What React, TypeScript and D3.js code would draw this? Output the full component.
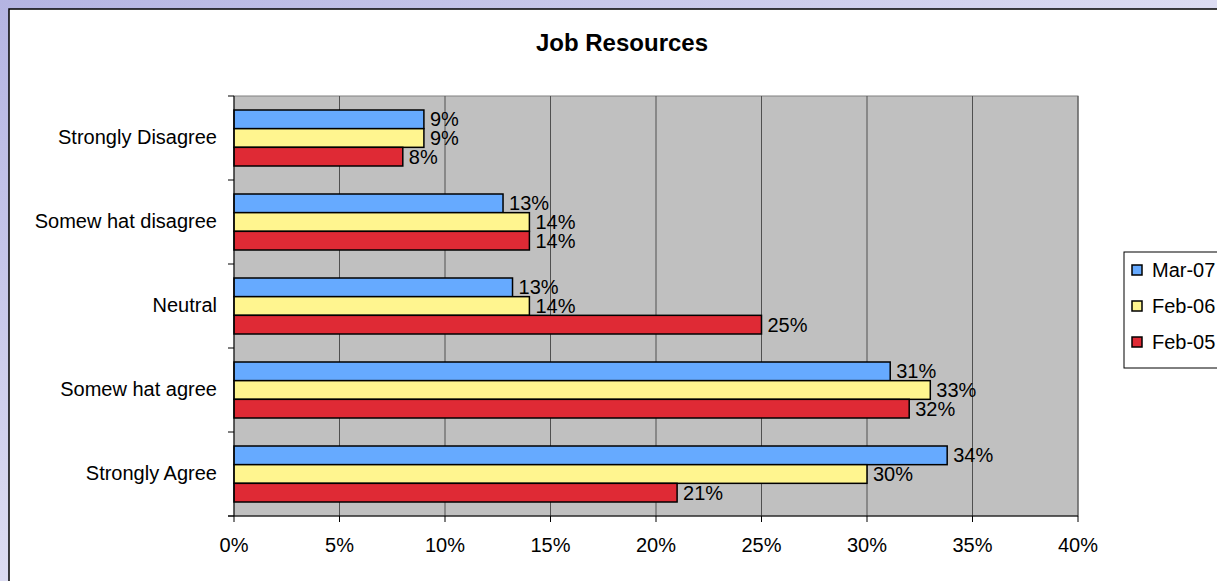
import React from "react";
import * as d3 from "d3";

const categories = ["Strongly Disagree", "Somew hat disagree", "Neutral", "Somew hat agree", "Strongly Agree"];
const seriesNames = ["Mar-07", "Feb-06", "Feb-05"];
const mar07 = [9.0, 12.75, 13.2, 31.1, 33.8];
const feb06 = [9.0, 14.0, 14.0, 33.0, 30.0];
const feb05 = [8.0, 14.0, 25.0, 32.0, 21.0];
const seriesColors = ["#66AAFF", "#FFF58F", "#DF2A35"];
const xTicks = [0, 5, 10, 15, 20, 25, 30, 35, 40];

export default function App() {
  const W = 1217, H = 581;
  const left = 234, right = 1078, top = 96, bottom = 516;
  const series = [mar07, feb06, feb05];
  const x = d3.scaleLinear().domain([0, 40]).range([left, right]);
  const y = d3.scaleBand().domain(categories).range([top, bottom]).paddingInner(0).paddingOuter(0);
  const bw = y.bandwidth();
  const barH = bw / 4.5;
  const off = (bw - barH * 3) / 2;
  const font = "Arial, 'Liberation Sans', sans-serif";
  const fs = 20;

  return (
    <svg width={W} height={H} style={{ position: "absolute", left: 0, top: 0 }} fontFamily={font}>
      <defs>
        <linearGradient id="bg" x1="0" y1="0" x2="1" y2="1">
          <stop offset="0" stopColor="#B4B4E2" />
          <stop offset="0.5" stopColor="#DCDCF2" />
          <stop offset="1" stopColor="#F2F3FB" />
        </linearGradient>
      </defs>
      <rect x={0} y={0} width={W} height={H} fill="url(#bg)" />
      <rect x={9} y={9} width={W + 10} height={H + 10} fill="#FFFFFF" stroke="#000" strokeWidth={1.5} />
      <text x={622} y={51} textAnchor="middle" fontSize={24} fontWeight="bold" fill="#000">Job Resources</text>

      <rect x={left} y={top} width={right - left} height={bottom - top} fill="#C0C0C0" stroke="#808080" strokeWidth={1} />
      {xTicks.slice(1).map((t) => (
        <line key={t} x1={x(t)} x2={x(t)} y1={top} y2={bottom} stroke="#505050" strokeWidth={1} />
      ))}

      {categories.map((c, ci) =>
        series.map((s, si) => {
          const yy = (y(c) as number) + off + si * barH;
          const w = x(s[ci]) - left;
          return (
            <g key={c + si}>
              <rect x={left} y={yy} width={w} height={barH} fill={seriesColors[si]} stroke="#000" strokeWidth={1.5} />
              <text x={x(s[ci]) + 6} y={yy + barH / 2 + 7} fontSize={fs} fill="#000">
                {Math.round(s[ci]) + "%"}
              </text>
            </g>
          );
        })
      )}

      <line x1={left} x2={left} y1={top} y2={bottom} stroke="#000" strokeWidth={1} />
      <line x1={left - 6} x2={right} y1={bottom} y2={bottom} stroke="#000" strokeWidth={1} />
      {d3.range(categories.length + 1).map((i) => (
        <line key={i} x1={left - 6} x2={left} y1={top + i * bw} y2={top + i * bw} stroke="#000" />
      ))}
      {xTicks.map((t) => (
        <g key={t}>
          <line x1={x(t)} x2={x(t)} y1={bottom} y2={bottom + 6} stroke="#000" />
          <text x={x(t)} y={552} textAnchor="middle" fontSize={fs} fill="#000">{t + "%"}</text>
        </g>
      ))}
      {categories.map((c) => (
        <text key={c} x={217} y={(y(c) as number) + bw / 2 + 6} textAnchor="end" fontSize={fs} fill="#000">{c}</text>
      ))}

      <rect x={1124} y={252} width={120} height={116} fill="#FFFFFF" stroke="#000" strokeWidth={1} />
      {seriesNames.map((n, i) => (
        <g key={n}>
          <rect x={1132} y={265 + i * 36} width={10} height={10} fill={seriesColors[i]} stroke="#000" strokeWidth={1.5} />
          <text x={1152} y={277 + i * 36} fontSize={fs} fill="#000">{n}</text>
        </g>
      ))}
    </svg>
  );
}
